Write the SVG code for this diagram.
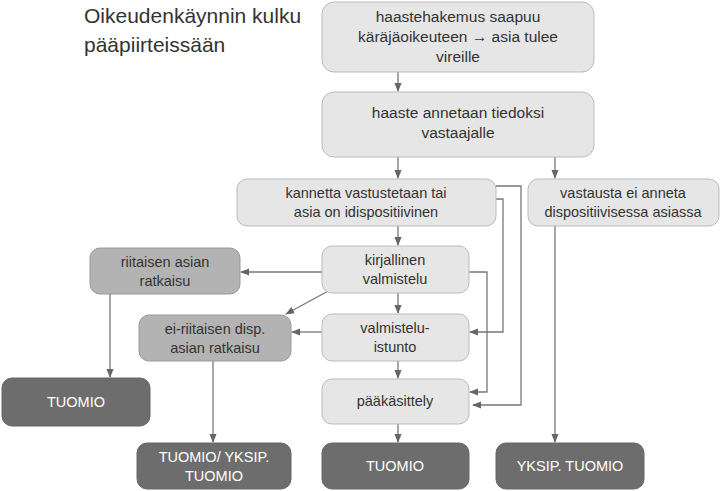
<svg xmlns="http://www.w3.org/2000/svg" width="721" height="491" viewBox="0 0 721 491">
<defs>
<marker id="ah" viewBox="0 0 10 10" refX="9" refY="5" markerWidth="7" markerHeight="7" orient="auto"><path d="M0,1 L10,5 L0,9 z" fill="#666"/></marker>
<style>
text{font-family:"Liberation Sans",Arial,sans-serif;font-size:14.5px;fill:#333;text-anchor:middle}
.l{fill:#e6e6e6;stroke:#bbb;stroke-width:1}
.m{fill:#b3b3b3;stroke:#999;stroke-width:1}
.d{fill:#6d6d6d;stroke:#666;stroke-width:1}
.w{fill:#fff}
.c{fill:none;stroke:#777;stroke-width:1.3;marker-end:url(#ah)}
.t{text-anchor:start;font-size:21px;fill:#333}
.b{font-size:15.5px}
</style>
</defs>
<rect width="721" height="491" fill="#fff"/>
<text class="t" x="84" y="23">Oikeudenkäynnin kulku</text>
<text class="t" x="84" y="52">pääpiirteissään</text>
<g id="connectors">
<path class="c" d="M398,72 V91"/>
<path class="c" d="M398,157 V178"/>
<path class="c" d="M555,157 V178"/>
<path class="c" d="M398,226 V245"/>
<path class="c" d="M322,272 H241"/>
<path class="c" d="M330,290 L286,314"/>
<path class="c" d="M398,293 V313"/>
<path class="c" d="M322,332 H292"/>
<path class="c" d="M398,361 V378"/>
<path class="c" d="M398,424 V442"/>
<path class="c" d="M110,294 V377"/>
<path class="c" d="M213,361 V442"/>
<path class="c" d="M555,226 V442"/>
<path class="c" d="M496,186 H521 V405 H473"/>
<path class="c" d="M496,199 H503 V332 H470"/>
<path class="c" d="M469,272 H487 V392 H470"/>
</g>
<g id="n1"><rect class="l" x="322" y="2" width="272" height="70" rx="12"/><text class="b" x="458" y="22">haastehakemus saapuu</text><text class="b" x="458" y="42">käräjäoikeuteen → asia tulee</text><text class="b" x="458" y="62">vireille</text></g>
<g id="n2"><rect class="l" x="322" y="92" width="272" height="65" rx="12"/><text class="b" x="458" y="118">haaste annetaan tiedoksi</text><text class="b" x="458" y="138">vastaajalle</text></g>
<g id="n3"><rect class="l" x="237" y="179" width="259" height="47" rx="10"/><text x="366" y="198">kannetta vastustetaan tai</text><text x="366" y="217">asia on idispositiivinen</text></g>
<g id="n4"><rect class="l" x="528" y="179" width="191" height="47" rx="10"/><text x="623" y="198">vastausta ei anneta</text><text x="623" y="217">dispositiivisessa asiassa</text></g>
<g id="n5"><rect class="l" x="322" y="246" width="147" height="47" rx="10"/><text x="395" y="265">kirjallinen</text><text x="395" y="284">valmistelu</text></g>
<g id="n6"><rect class="l" x="322" y="314" width="147" height="47" rx="10"/><text x="395" y="333">valmistelu-</text><text x="395" y="352">istunto</text></g>
<g id="n7"><rect class="l" x="322" y="379" width="147" height="45" rx="10"/><text x="395" y="406">pääkäsittely</text></g>
<g id="n8"><rect class="m" x="90" y="248" width="150" height="46" rx="10"/><text x="165" y="267">riitaisen asian</text><text x="165" y="286">ratkaisu</text></g>
<g id="n9"><rect class="m" x="139" y="315" width="152" height="46" rx="10"/><text x="215" y="334">ei-riitaisen disp.</text><text x="215" y="353">asian ratkaisu</text></g>
<g id="n10"><rect class="d" x="2" y="378" width="148" height="48" rx="10"/><text class="w" x="76" y="407">TUOMIO</text></g>
<g id="n11"><rect class="d" x="137" y="443" width="154" height="46" rx="10"/><text class="w" x="214" y="462">TUOMIO/ YKSIP.</text><text class="w" x="214" y="481">TUOMIO</text></g>
<g id="n12"><rect class="d" x="322" y="443" width="147" height="46" rx="10"/><text class="w" x="395" y="471">TUOMIO</text></g>
<g id="n13"><rect class="d" x="496" y="443" width="148" height="46" rx="10"/><text class="w" x="570" y="471">YKSIP. TUOMIO</text></g>
</svg>
